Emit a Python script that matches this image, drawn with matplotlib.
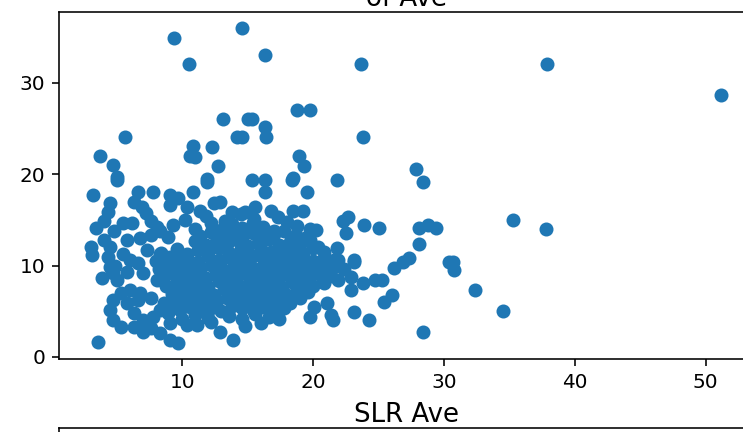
import matplotlib
matplotlib.use("Agg")
import matplotlib.pyplot as plt

# =========================================================
# DATA
# =========================================================
# scattered points outside the dense core
outer_x = [9.4, 14.6, 10.5, 16.3, 23.7, 37.9, 51.2,
           18.8, 19.8, 13.1, 15.0, 15.3, 16.3, 16.4, 14.2, 14.6, 5.6, 23.8,
           3.7, 4.7, 5.0, 10.8, 10.6, 11.0, 12.3, 12.7, 11.9, 15.3, 16.3,
           18.9, 19.3, 18.5, 21.8, 27.9, 28.4,
           18.4, 19.5, 16.3, 15.6, 16.8, 18.5, 19.2, 22.7, 22.3, 23.9, 25.0,
           22.5, 28.1, 28.8, 29.4, 28.1, 30.4, 30.7, 30.8, 27.3, 26.9, 26.2,
           25.3, 24.7, 23.8, 23.1, 22.9, 26.0, 25.4, 23.1, 24.3, 28.4, 21.5,
           21.4, 19.8, 20.1, 21.1, 21.9, 22.9, 21.9, 23.1, 21.8, 20.4, 20.2,
           19.5, 18.3, 35.3, 37.8, 32.4, 34.5, 14.8, 13.8]
outer_y = [34.9, 36.0, 32.0, 33.0, 32.0, 32.0, 28.7,
           27.0, 27.0, 26.0, 26.0, 26.0, 25.1, 24.0, 24.0, 24.0, 24.1, 24.0,
           22.0, 21.0, 19.7, 23.1, 22.0, 21.9, 23.0, 20.9, 19.5, 19.3, 19.3,
           22.0, 20.9, 19.6, 19.3, 20.5, 19.1,
           19.3, 18.0, 18.0, 16.4, 16.0, 16.0, 16.0, 15.3, 14.9, 14.4, 14.1,
           13.6, 14.1, 14.4, 14.1, 12.4, 10.4, 10.4, 9.5, 10.8, 10.4, 9.7,
           8.4, 8.4, 8.1, 10.4, 7.3, 6.8, 6.0, 4.9, 4.0, 2.7, 4.0,
           4.6, 4.4, 5.5, 5.9, 8.4, 8.7, 10.6, 10.6, 11.9, 12.0, 13.9,
           13.1, 12.0, 15.0, 14.0, 7.3, 5.0, 15.8, 15.9]

# left-hand group
left_x = [3.2, 4.5, 4.3, 4.0, 6.6, 7.8, 6.3, 6.9, 7.2, 7.6, 8.1, 9.1, 9.7,
          10.8, 11.9, 5.0, 9.1, 10.4, 11.4, 12.4, 12.9, 5.5, 6.2, 3.4, 3.0,
          3.1, 4.0, 4.5, 4.3, 5.8, 6.8, 7.6, 8.3, 8.9, 5.5, 6.0, 6.6, 7.3,
          8.3, 9.1, 8.9, 4.5, 4.7, 3.9, 5.0, 5.8, 7.0, 8.1, 5.3, 6.0, 6.8,
          7.6, 4.7, 5.8, 6.6, 4.5, 4.7, 5.3, 6.3, 7.0, 7.8, 8.3, 6.3, 7.0,
          7.6, 8.3, 9.1, 9.7, 3.6, 11.1, 12.9, 13.9, 9.1, 8.9, 8.6, 4.8, 4.9]
left_y = [17.7, 16.8, 15.8, 14.9, 18.0, 18.0, 16.9, 16.4, 15.7, 14.9, 14.2,
          17.7, 17.4, 18.0, 19.1, 19.3, 16.6, 16.4, 16.0, 16.8, 16.9, 14.6,
          14.7, 14.1, 12.0, 11.1, 12.8, 12.0, 10.9, 12.8, 13.0, 13.3, 13.8,
          13.1, 11.3, 10.6, 10.3, 11.7, 11.3, 10.9, 9.8, 9.8, 9.2, 8.6, 8.4,
          9.3, 9.2, 8.4, 7.0, 7.3, 7.0, 6.5, 6.2, 5.9, 6.2, 5.1, 4.0, 3.3,
          4.8, 4.0, 4.4, 5.1, 3.3, 2.7, 3.2, 2.6, 1.9, 1.5, 1.6, 3.5, 2.7,
          1.9, 3.7, 4.8, 5.9, 13.8, 10.0]

# dense core, row by row
core_x = [10.2, 11.8, 13.3, 14.5, 15.5, 17.3, 18.0,
          9.3, 11.0, 12.2, 13.0, 13.8, 14.6, 15.4, 16.2, 17.0, 18.8, 19.8,
          11.4, 12.2, 13.0, 13.8, 14.6, 15.4, 16.2, 17.0, 17.8, 18.7,
          11.0, 11.8, 12.6, 13.4, 14.2, 15.0, 15.8, 16.6, 17.4, 18.2,
          19.0, 19.8,
          8.4, 9.6, 10.4, 11.2, 12.0, 12.8, 13.6, 14.4, 15.2, 16.0, 16.8,
          17.6, 18.4, 19.2, 20.0, 20.8,
          8.0, 8.8, 9.6, 10.4, 11.2, 12.0, 12.8, 13.6, 14.4, 15.2, 16.0,
          16.8, 17.6, 18.4, 19.2, 20.0, 20.8, 21.6,
          8.2, 9.0, 9.8, 10.6, 11.4, 12.2, 13.0, 13.8, 14.6, 15.4, 16.2,
          17.0, 17.8, 18.6, 19.4, 20.2, 21.0, 21.8, 22.4,
          8.6, 9.4, 10.2, 11.0, 11.8, 12.6, 13.4, 14.2, 15.0, 15.8, 16.6,
          17.4, 18.2, 19.0, 19.8, 20.6, 21.4,
          8.8, 9.6, 10.4, 11.2, 12.0, 12.8, 13.6, 14.4, 15.2, 16.0, 16.8,
          17.6, 18.4, 19.2, 20.0, 20.8,
          9.2, 10.0, 10.8, 11.6, 12.4, 13.2, 14.0, 14.8, 15.6, 16.4, 17.2,
          18.0, 18.8, 19.6,
          9.4, 10.2, 11.0, 11.8, 12.6, 13.4, 14.2, 15.0, 15.8, 16.6, 17.4,
          18.2, 19.0,
          9.8, 10.6, 11.4, 12.2, 13.0, 13.8, 14.6, 15.4, 16.2, 17.0, 17.8,
          10.0, 11.0, 12.0, 13.6, 14.6, 15.6, 16.6, 17.4,
          10.4, 12.2, 14.8, 16.0]
core_y = [15.0, 15.4, 14.9, 15.6, 15.1, 15.3, 14.8,
          14.4, 14.0, 14.6, 13.9, 14.5, 14.1, 14.7, 14.2, 13.8, 14.3, 14.0,
          13.2, 13.7, 13.1, 13.5, 12.9, 13.6, 13.0, 13.4, 13.8, 13.3,
          12.7, 12.2, 12.6, 12.3, 12.8, 12.1, 12.5, 12.9, 12.2, 12.6,
          12.4, 12.8,
          11.4, 11.8, 11.3, 11.7, 11.5, 11.9, 11.4, 11.6, 11.2, 11.8, 11.5,
          11.3, 11.7, 11.4, 11.9, 11.5,
          10.5, 10.9, 10.6, 10.8, 10.4, 11.0, 10.6, 10.9, 10.5, 10.7, 11.0,
          10.4, 10.8, 10.6, 10.9, 10.5, 10.8, 10.6,
          9.6, 10.0, 9.7, 9.9, 9.5, 10.1, 9.8, 9.6, 10.0, 9.7, 9.9,
          9.5, 10.0, 9.8, 9.6, 9.9, 9.7, 10.0, 9.6,
          8.7, 9.1, 8.8, 9.0, 8.6, 9.2, 8.9, 8.7, 9.1, 8.8, 9.0,
          8.6, 9.1, 8.9, 8.7, 9.0, 8.8,
          7.8, 8.2, 7.9, 8.1, 7.7, 8.3, 8.0, 7.8, 8.2, 7.9, 8.1,
          7.7, 8.2, 8.0, 7.8, 8.1,
          6.9, 7.3, 7.0, 7.2, 6.8, 7.4, 7.1, 6.9, 7.3, 7.0, 7.2,
          6.8, 7.3, 7.1,
          6.0, 6.4, 6.1, 6.3, 5.9, 6.5, 6.2, 6.0, 6.4, 6.1, 6.3,
          5.9, 6.4,
          5.1, 5.5, 5.2, 5.4, 5.0, 5.6, 5.3, 5.1, 5.5, 5.2, 5.4,
          4.2, 4.6, 4.3, 4.5, 4.1, 4.7, 4.4, 4.2,
          3.5, 3.8, 3.4, 3.7]

slr_ave = outer_x + left_x + core_x
of_ave = outer_y + left_y + core_y

y_ticks = [0, 10, 20, 30]

# =========================================================
# PLOT
# =========================================================
fig = plt.figure(figsize=(743 / 144, 432 / 144), dpi=144)

ax = fig.add_axes([59 / 743, 73 / 432, 694 / 743, 347 / 432])
ax.scatter(slr_ave, of_ave)
ax.set_yticks(y_ticks)
ax.set_title("of Ave", fontsize=13, pad=2)

# next subplot, only its title and top edge are in view
ax2 = fig.add_axes([59 / 743, 4 / 432 - 0.8, 694 / 743, 0.8])
ax2.set_title("SLR Ave", fontsize=13, pad=2)
ax2.set_xticks([])
ax2.set_yticks([])

fig.savefig("out.png", dpi=144)
